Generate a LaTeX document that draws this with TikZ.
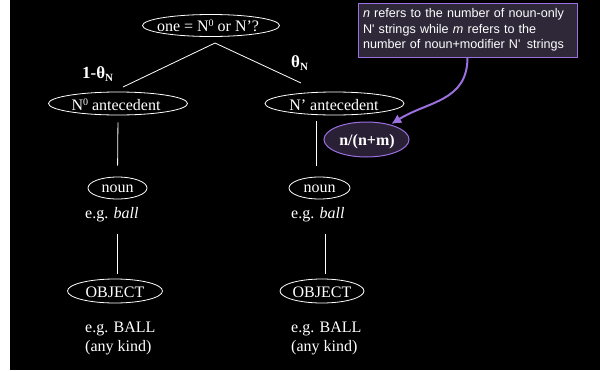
\documentclass[tikz,border=0pt]{standalone}
\usepackage{fontspec}
\setmainfont{Liberation Serif}
\newfontfamily\boxfont{Liberation Sans}
\usetikzlibrary{shapes.geometric,arrows.meta}
\definecolor{lav}{HTML}{9B6FE0}
\definecolor{boxbg}{HTML}{2E2838}
\definecolor{nmbg}{HTML}{2A2035}
\newcommand{\supz}{\raisebox{4.6pt}{\fontsize{10}{10}\selectfont 0}}
\newcommand{\subN}{\raisebox{-3pt}{\fontsize{11}{11}\selectfont\bfseries N}}
\begin{document}
\begin{tikzpicture}[x=1pt,y=-1pt,
  font=\fontsize{16}{19}\selectfont,
  every node/.style={text=white},
  ell/.style={ellipse, draw=white, line width=0.8pt, inner sep=0pt},
  txt/.style={inner sep=0pt, anchor=base},
  conn/.style={draw=white, line width=0.8pt},
  lbl/.style={inner sep=0pt, anchor=base west, font=\fontsize{17}{19}\selectfont\bfseries}]
\fill[white] (0,0) rectangle (10,370);
\fill[black] (10,0) rectangle (600,370);
\useasboundingbox (0,0) rectangle (600,370);

% ellipses
\node[ell, minimum width=137pt, minimum height=22pt] (one) at (211,25.5) {};
\node[txt] (oneT) at (208,31.5) {one = N\supz{} or N’?};
\node[ell, minimum width=139pt, minimum height=23pt] (n0) at (118,103.5) {};
\node[txt] (n0T) at (116,110.5) {N\supz{} antecedent};
\node[ell, minimum width=139pt, minimum height=23pt] (n1) at (334.5,103.5) {};
\node[txt] (n1T) at (334,110.5) {N’ antecedent};
\node[ell, draw=lav, fill=nmbg, line width=1pt, minimum width=85pt, minimum height=35pt] (nm) at (366.5,139.5) {};
\node[txt, font=\fontsize{16}{19}\selectfont\bfseries] (nmT) at (367,145) {n/(n+m)};
\node[ell, minimum width=59pt, minimum height=22pt] (nounL) at (117.5,188) {};
\node[txt] (nounLT) at (117.5,192) {noun};
\node[ell, minimum width=61pt, minimum height=22pt] (nounR) at (319.5,188) {};
\node[txt] (nounRT) at (319.5,192) {noun};
\node[ell, minimum width=95pt, minimum height=24pt] (objL) at (115,291) {};
\node[txt] (objLT) at (115,297) {OBJECT};
\node[ell, minimum width=84pt, minimum height=24pt] (objR) at (322,291) {};
\node[txt] (objRT) at (322,297) {OBJECT};

% texts
\node[txt, anchor=base west] (egL) at (85,218) {e.g. \textit{ball}};
\node[txt, anchor=base west] (egR) at (291,218) {e.g. \textit{ball}};
\node[txt, anchor=base west] (ballL) at (85,332) {e.g. BALL};
\node[txt, anchor=base west] (kindL) at (85,351) {(any kind)};
\node[txt, anchor=base west] (ballR) at (291,332) {e.g. BALL};
\node[txt, anchor=base west] (kindR) at (291,351) {(any kind)};
\node[lbl] (thL) at (82,78) {1-θ\subN};
\node[lbl] (thR) at (291,67) {θ\subN};

% note box
\node[draw=lav, fill=boxbg, line width=1pt, inner xsep=5pt, inner ysep=0pt,
      minimum width=219pt, minimum height=54pt, text width=209pt, align=left,
      font=\boxfont\fontsize{12.6}{15.5}\selectfont] (note) at (467.5,30)
  {\textit{n} refers to the number of noun-only\\N' strings while \textit{m} refers to the\\number of noun+modifier N' \,strings};

% connectors
\coordinate (apex) at (215,43);
\coordinate (lEnd) at (123,87);
\coordinate (rEnd) at (301,83);
\draw[conn] (apex) -- (lEnd);
\draw[conn] (apex) -- (rEnd);
\draw[conn, shorten <=7pt, shorten >=11pt] (n0.south) -- (nounL.north);
\draw[conn, shorten >=5pt] (egL.south -| nounL) ++(0,12) -- (objL.north -| nounL);
\draw[conn, shorten <=6pt, shorten >=11pt] (n1.south -| nounR) ++(-3,0) -- ([xshift=-3pt]nounR.north);
\draw[conn, shorten >=5pt] (egR.south -| objR) ++(3,12) -- ([xshift=3pt]objR.north);
\draw[lav, line width=2pt, -{Latex[length=10pt,width=10pt]}, shorten >=1pt]
  (note.south) to[out=-90, in=32, looseness=1.1] (nm.32);
\end{tikzpicture}
\end{document}
